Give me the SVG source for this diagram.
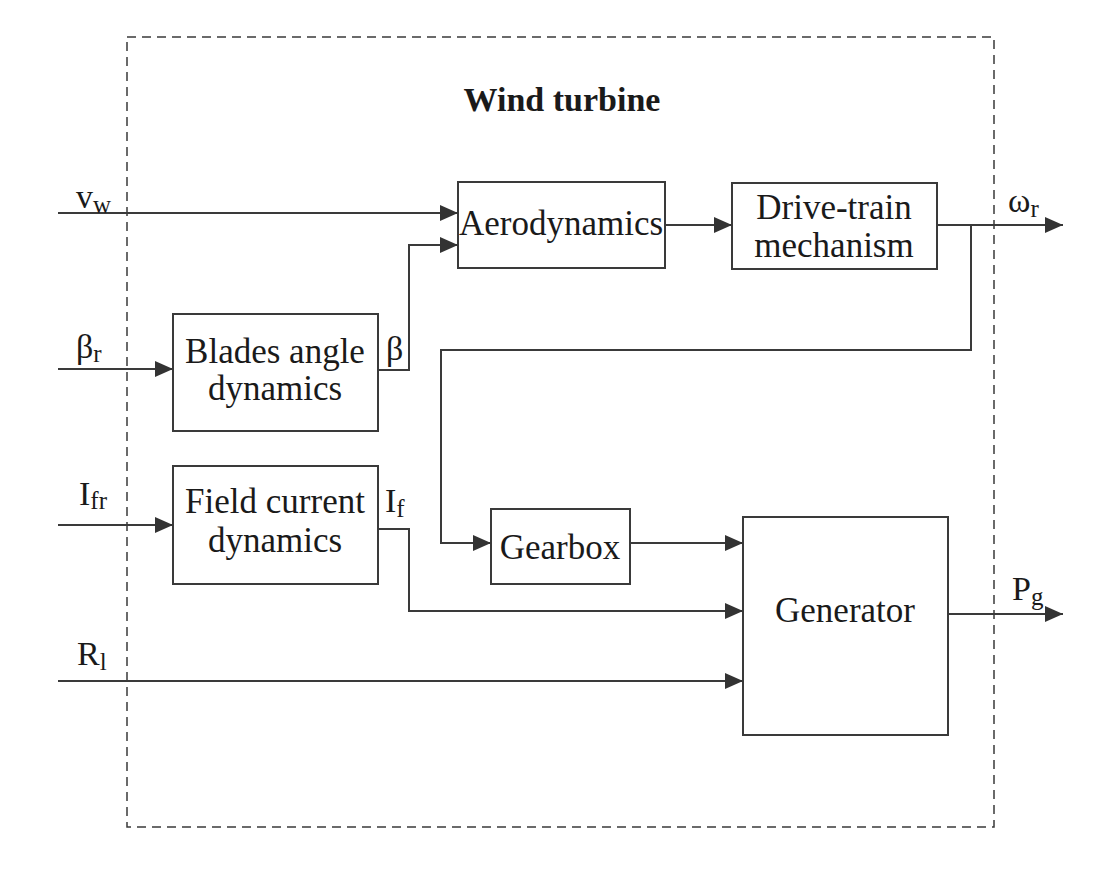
<svg xmlns="http://www.w3.org/2000/svg" width="1106" height="874" viewBox="0 0 1106 874">
<style>
.box{fill:#fff;stroke:#3a3a3a;stroke-width:2}
.ln{fill:none;stroke:#3a3a3a;stroke-width:2}
.t{font-family:"Liberation Serif","Times New Roman",serif;font-size:35px;fill:#1a1a1a;text-anchor:middle}
.lb{font-family:"Liberation Serif","Times New Roman",serif;font-size:34px;fill:#1a1a1a}
.sb{font-size:25px}
.title{font-family:"Liberation Serif","Times New Roman",serif;font-size:34px;font-weight:bold;fill:#1a1a1a;text-anchor:middle}
</style>
<defs>
<marker id="ah" markerWidth="18" markerHeight="16" refX="18" refY="8" orient="auto" markerUnits="userSpaceOnUse">
<path d="M0,0 L18,8 L0,16 Z" fill="#333"/>
</marker>
</defs>
<rect width="1106" height="874" fill="#fff"/>
<rect id="frame" x="127" y="37" width="867" height="790" fill="none" stroke="#3a3a3a" stroke-width="1.5" stroke-dasharray="9,6"/>
<text class="title" x="562" y="111">Wind turbine</text>

<g id="aero"><rect class="box" x="458" y="182" width="207" height="86"/><text class="t" x="561" y="235">Aerodynamics</text></g>
<g id="drive"><rect class="box" x="732" y="183" width="205" height="86"/><text class="t" x="834" y="219">Drive-train</text><text class="t" x="834" y="257">mechanism</text></g>
<g id="blades"><rect class="box" x="173" y="314" width="205" height="117"/><text class="t" x="275" y="363">Blades angle</text><text class="t" x="275" y="400">dynamics</text></g>
<g id="field"><rect class="box" x="173" y="466" width="205" height="118"/><text class="t" x="275" y="513">Field current</text><text class="t" x="275" y="552">dynamics</text></g>
<g id="gearbox"><rect class="box" x="491" y="509" width="139" height="75"/><text class="t" x="560" y="559">Gearbox</text></g>
<g id="generator"><rect class="box" x="743" y="517" width="205" height="218"/><text class="t" x="845" y="622">Generator</text></g>

<g id="connectors">
<path class="ln" d="M58,213 H458" marker-end="url(#ah)"/>
<path class="ln" d="M378,370 H409 V245 H458" marker-end="url(#ah)"/>
<path class="ln" d="M665,225 H732" marker-end="url(#ah)"/>
<path class="ln" d="M937,225 H1063" marker-end="url(#ah)"/>
<path class="ln" d="M971,225 V350 H441 V543 H491" marker-end="url(#ah)"/>
<path class="ln" d="M58,369 H173" marker-end="url(#ah)"/>
<path class="ln" d="M58,525 H173" marker-end="url(#ah)"/>
<path class="ln" d="M378,529 H409 V611 H743" marker-end="url(#ah)"/>
<path class="ln" d="M630,543 H743" marker-end="url(#ah)"/>
<path class="ln" d="M58,681 H743" marker-end="url(#ah)"/>
<path class="ln" d="M948,614 H1063" marker-end="url(#ah)"/>
</g>

<g id="labels">
<text class="lb" x="76" y="208">v<tspan class="sb" dy="5">w</tspan></text>
<text class="lb" x="76" y="358">β<tspan class="sb" dy="4">r</tspan></text>
<text class="lb" x="79" y="505">I<tspan class="sb" dy="4">fr</tspan></text>
<text class="lb" x="77" y="665">R<tspan class="sb" dy="5">l</tspan></text>
<text class="lb" x="386" y="360">β</text>
<text class="lb" x="385" y="512">I<tspan class="sb" dy="5">f</tspan></text>
<text class="lb" x="1008" y="212">ω<tspan class="sb" dy="5">r</tspan></text>
<text class="lb" x="1012" y="600">P<tspan class="sb" dy="5">g</tspan></text>
</g>
</svg>
